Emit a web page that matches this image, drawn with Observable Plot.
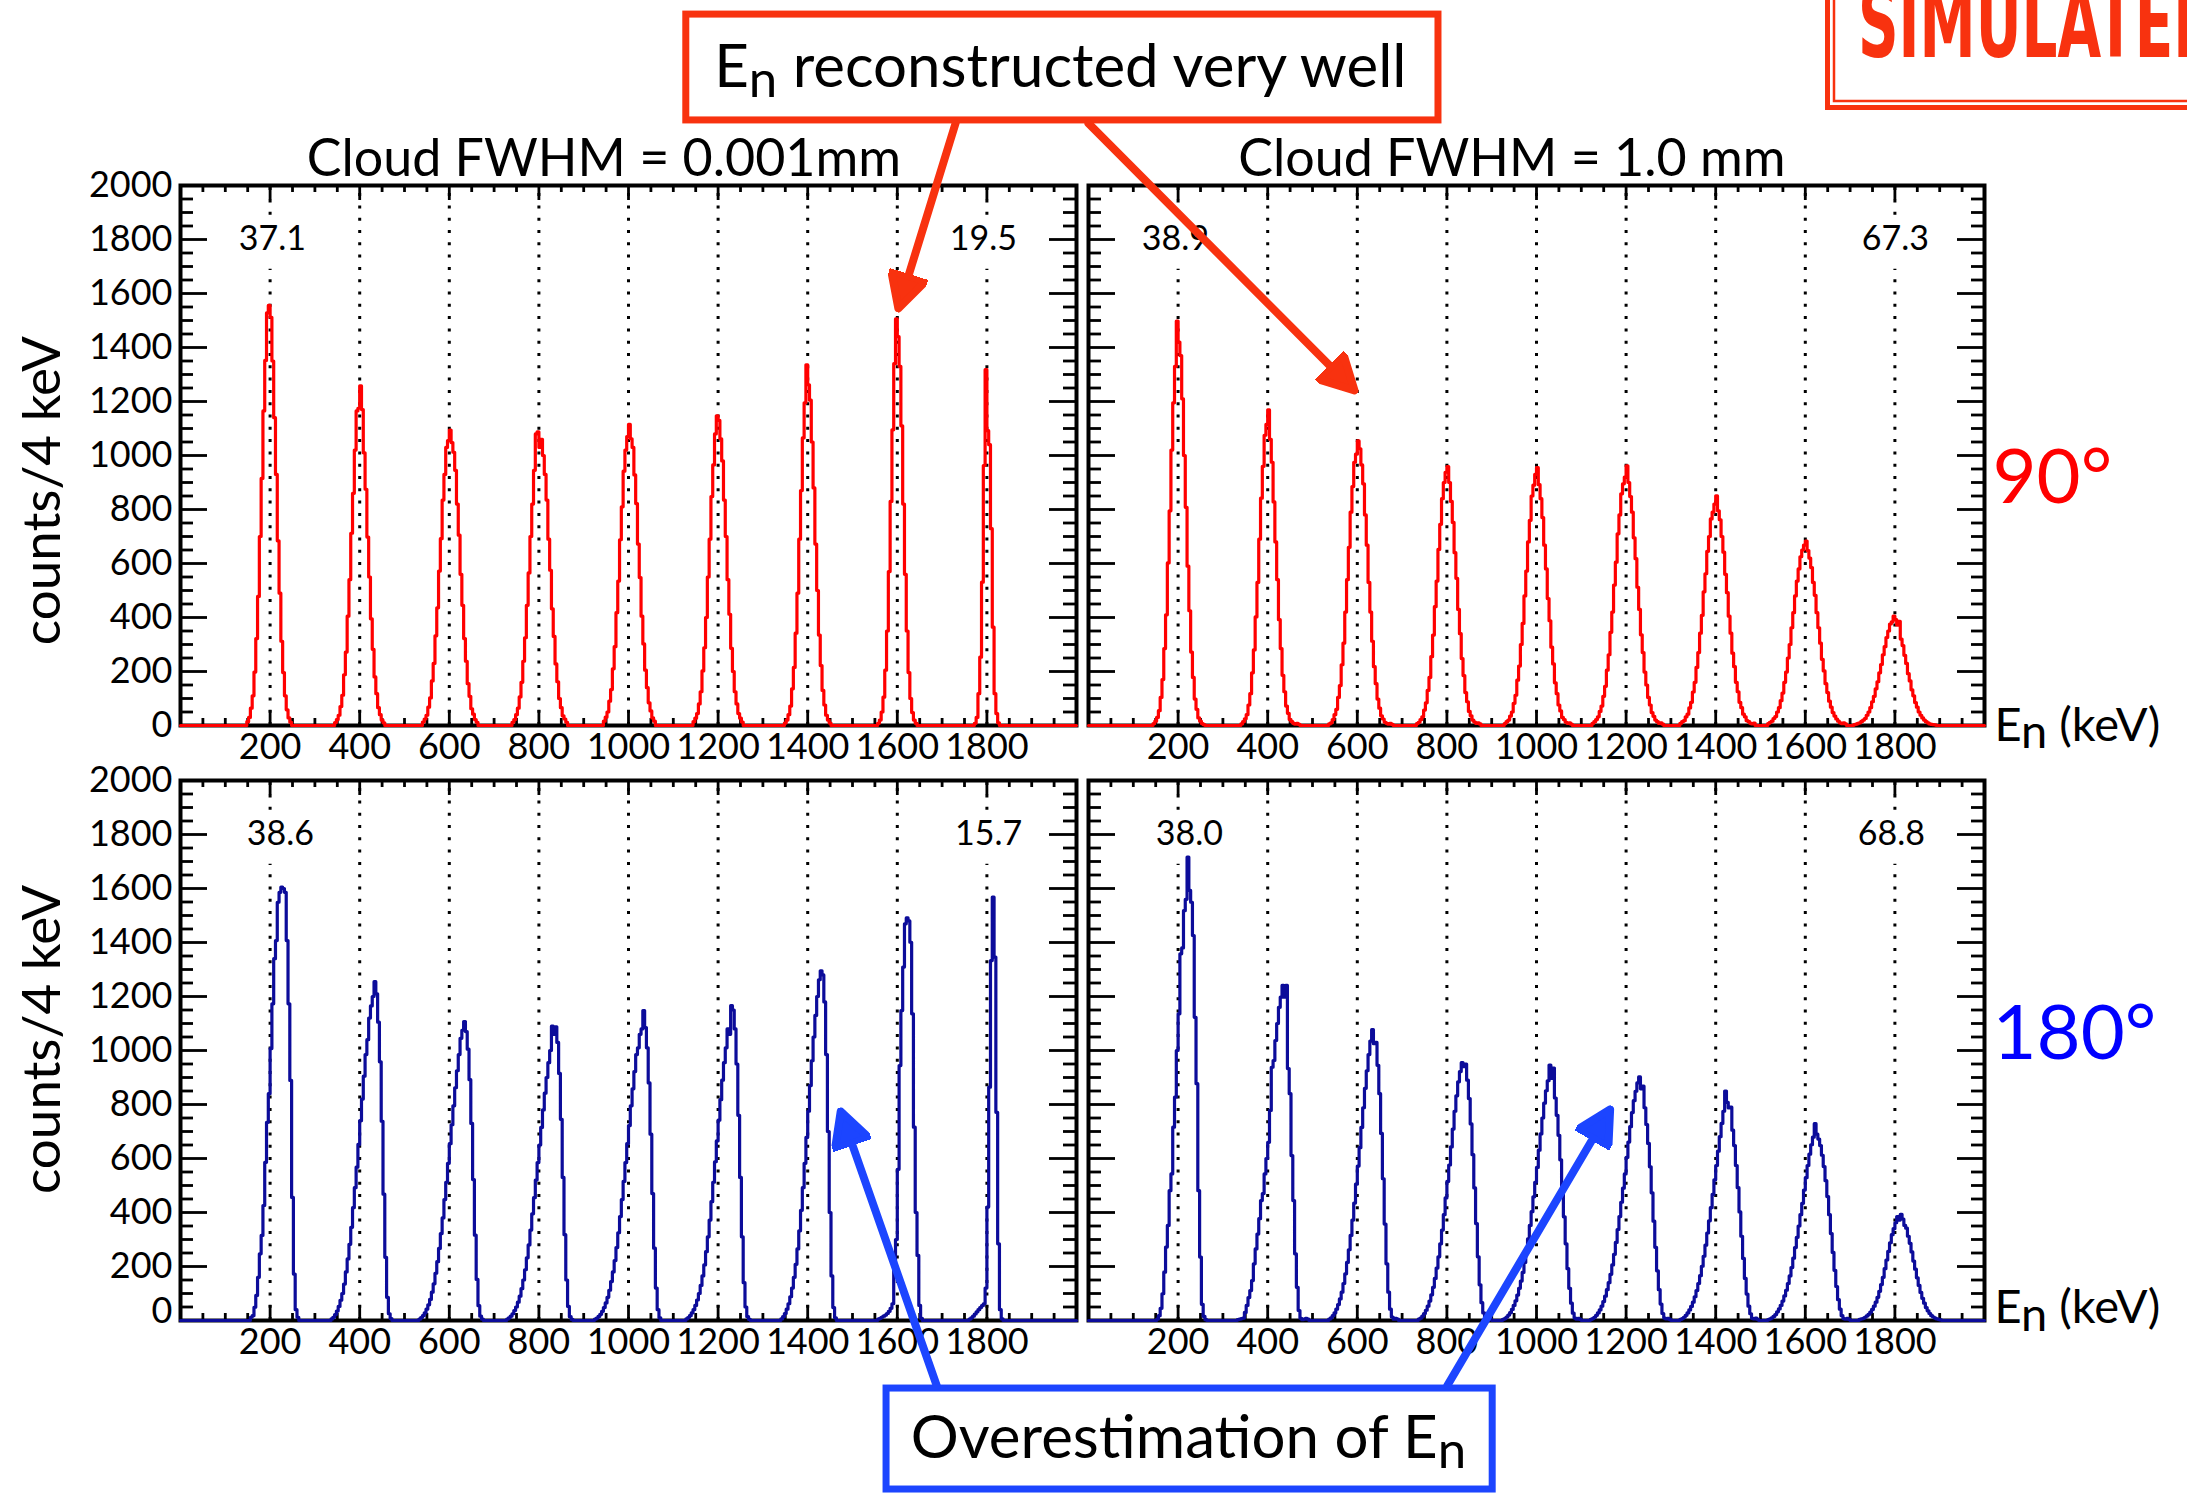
<!DOCTYPE html>
<html>
<head>
<meta charset="utf-8">
<script src="https://cdn.jsdelivr.net/npm/d3@7"></script>
<script src="https://cdn.jsdelivr.net/npm/@observablehq/plot@0.6"></script>
<style>
  html, body { margin: 0; padding: 0; background: #fff; }
  #wrap { position: relative; width: 2187px; height: 1496px; overflow: hidden; background: #fff; }
  #wrap > svg { position: absolute; left: 0; top: 0; }
</style>
</head>
<body>
<div id="wrap"></div>
<script>
// ---------------- data ----------------
const BIN_KEV = 4;
const N_BINS = 500;
const xTickValues = [200, 400, 600, 800, 1000, 1200, 1400, 1600, 1800];
const xTickLabels = ["200", "400", "600", "800", "1000", "1200", "1400", "1600", "1800"];
const yTickValues = [0, 200, 400, 600, 800, 1000, 1200, 1400, 1600, 1800, 2000];
const yTickLabels = ["0", "200", "400", "600", "800", "1000", "1200", "1400", "1600", "1800", "2000"];
const cloudWidths = ["0.001mm", "1.0mm"];
const columnTitles = ["Cloud FWHM = 0.001mm", "Cloud FWHM = 1.0 mm"];
const angles = ["90", "180"];
const angleLabels = ["90°", "180°"];
// resolution (FWHM, keV) printed on each panel and the energy where it is printed
const resolutionText = [["37.1", "19.5"], ["38.9", "67.3"], ["38.6", "15.7"], ["38.0", "68.8"]];
const resolutionEnergy = [[205, 1792], [194, 1801], [223, 1804], [225, 1792]];

// histogram peaks: [first bin lower edge (keV), counts per 4 keV bin]
const peaks90_0001 = [
  [148, [14,30,64,110,198,322,478,700,915,1165,1352,1528,1556,1512,1350,1140,930,684,490,312,196,110,58,28,12]],
  [344, [11,22,38,70,112,188,272,405,540,712,860,1020,1165,1175,1258,1170,1010,875,698,550,395,282,180,118,66,40,20,10]],
  [540, [13,24,38,68,102,165,230,332,436,572,692,835,930,1030,1055,1094,1048,1012,945,820,705,560,445,322,238,155,108,62,42,22,12]],
  [740, [12,22,40,64,106,160,238,325,445,565,700,820,945,1080,1088,1030,1060,1000,930,835,690,575,432,330,228,162,100,66,36,24,12]],
  [944, [16,31,50,90,133,210,292,418,535,688,810,942,1020,1070,1115,1062,1030,928,822,672,548,405,302,205,140,84,54,28,16]],
  [1144, [14,27,44,80,125,202,288,400,550,690,848,965,1080,1147,1130,1062,980,835,700,540,412,286,200,125,80,44,27,13]],
  [1348, [9,20,40,72,136,215,342,490,690,870,1065,1195,1336,1262,1205,1050,880,672,500,335,222,130,76,38,20,9]],
  [1556, [8,20,50,105,205,350,570,830,1095,1340,1506,1440,1330,1110,820,560,350,196,100,48,20,8]],
  [1772, [8,30,118,253,531,963,1318,1092,1040,729,364,118,44,10]]
];
const peaks90_1mm = [
  [144, [7,16,30,55,104,170,285,410,602,795,1020,1195,1330,1498,1420,1370,1210,1000,808,590,425,272,178,98,60,28,16,7,3]],
  [340, [6,14,25,40,76,118,195,280,402,530,690,842,960,1075,1115,1169,1060,975,828,680,540,392,285,186,125,72,45,22,14,8,5,8,4]],
  [536, [6,10,22,40,60,104,148,225,305,420,540,660,790,885,975,1005,1054,1025,965,895,780,668,530,420,312,218,155,98,64,36,24,12,8,5,8,4]],
  [732, [7,12,22,32,57,84,130,178,255,335,440,535,652,745,840,900,938,959,900,830,752,640,545,430,340,248,185,122,88,52,36,20,13,8,10,6]],
  [928, [7,14,20,35,50,82,112,168,220,300,378,480,572,680,760,850,890,930,955,892,840,770,668,580,470,388,290,228,158,118,76,54,30,22,12,8,10,5]],
  [1124, [8,14,22,32,52,72,108,145,205,262,345,420,520,605,710,780,858,895,920,962,900,848,790,695,618,512,430,336,270,198,150,104,76,48,34,20,14,8,10,5]],
  [1320, [8,14,18,32,42,65,86,124,160,215,270,342,408,495,562,645,700,765,790,820,851,795,762,700,642,560,492,405,342,268,218,160,125,86,66,42,32,18,14,8,6,9]],
  [1516, [7,12,16,26,33,50,66,92,120,160,198,250,300,362,418,480,535,580,625,650,668,683,648,620,585,530,482,418,362,305,245,202,155,122,90,68,48,35,24,16,10,7,10,6]],
  [1708, [3,5,8,10,15,20,26,38,50,66,88,108,136,162,195,226,262,292,326,350,376,384,405,392,372,386,320,296,260,230,192,165,132,110,85,68,50,38,28,20,14,10,6,4,3,2]]
];
const peaks180_0001 = [
  [156, [12,18,49,93,160,247,315,426,586,734,840,1007,1173,1340,1407,1549,1586,1605,1600,1586,1407,1173,889,456,172,40,12]],
  [336, [6,12,22,35,52,75,100,135,180,228,282,345,418,492,568,652,740,820,905,985,1040,1120,1165,1200,1255,1210,1105,958,738,468,234,86,25,7]],
  [532, [5,11,18,28,42,58,78,105,136,175,218,267,322,380,448,512,582,655,725,795,862,925,985,1045,1075,1107,1070,1005,892,730,522,316,152,55,16,5]],
  [728, [5,10,16,25,37,50,68,90,118,150,188,232,280,335,395,455,520,585,650,715,780,842,900,955,1000,1090,1060,1088,1030,915,745,530,318,150,52,14,4]],
  [924, [5,9,15,23,34,48,65,86,112,144,180,222,270,325,385,448,515,585,655,722,795,858,922,985,1010,1060,1080,1148,1085,1010,880,690,470,268,120,40,10]],
  [1128, [6,11,18,28,40,56,76,100,130,165,206,255,310,372,440,512,588,665,742,818,890,955,1010,1080,1060,1166,1150,1080,950,760,530,310,140,50,14,4]],
  [1340, [6,14,26,42,62,88,120,160,208,265,332,408,492,582,678,775,870,962,1050,1130,1200,1262,1295,1280,1180,985,700,400,165,48,10]],
  [1556, [5,8,12,16,20,26,34,45,62,192,300,560,944,1148,1309,1469,1491,1480,1401,1136,716,400,241,56,8]],
  [1760, [5,10,16,24,32,40,48,55,62,120,420,864,1333,1568,1346,771,284,40,6]]
];
const peaks180_1mm = [
  [152, [5,18,45,99,179,272,352,481,543,716,827,1000,1136,1358,1380,1518,1560,1716,1593,1549,1426,1123,877,481,235,60,15,3]],
  [332, [3,5,7,9,30,56,85,111,148,210,265,320,377,444,470,543,600,660,778,938,963,1037,1100,1160,1198,1241,1198,1241,933,840,611,444,247,123,37,8,3,5,8,5]],
  [536, [5,10,18,28,42,59,80,105,137,173,215,262,315,372,435,505,572,640,715,788,860,925,985,1035,1077,1025,1030,945,840,693,525,357,210,105,42,13,5,8,5]],
  [736, [5,9,16,26,38,53,72,95,123,156,194,236,284,335,392,454,515,576,643,709,775,832,884,922,955,940,950,890,822,728,614,491,359,236,132,66,28,10,6,8,4]],
  [924, [4,7,13,20,29,41,56,73,94,119,146,178,215,256,302,352,403,458,512,567,631,691,750,805,851,888,946,897,935,824,760,686,595,494,384,284,192,119,64,27,9,5,8,4]],
  [1120, [4,7,12,19,28,39,53,70,90,114,140,171,206,245,289,337,385,438,490,543,604,661,718,770,814,849,880,902,858,868,788,726,656,569,473,368,271,184,114,61,26,9,6,8,4]],
  [1320, [4,7,12,19,28,39,52,68,88,111,137,166,201,238,279,324,369,418,467,521,574,627,681,730,775,850,808,787,790,705,648,574,492,402,312,230,156,98,53,25,8,6,9,4]],
  [1516, [3,6,10,15,22,32,43,56,72,91,112,137,165,196,231,270,308,350,392,434,483,529,574,616,651,679,729,690,672,648,612,570,518,459,392,322,252,186,126,77,42,18,7,5,8,4]],
  [1720, [4,6,8,12,17,23,31,41,53,68,86,108,133,160,192,224,256,288,318,340,362,385,372,393,376,352,342,312,286,254,220,190,158,130,104,82,64,48,36,26,18,13,9,6,4,2]]
];

// ---------------- layout ----------------
const W = 2187, H = 1496;
const mL = 180, mR = 203, mT = 185, mB = 176;
const panelW = 896, panelH = 540;
const pxPerKeV = panelW / 2000, pxPerCount = panelH / 2000;
const RED = "#ff0000", BLUE = "#0c0c9a", ANN_RED = "#f8320f", ANN_BLUE = "#1c45ff";
const FONT = "Lato, 'Open Sans', 'DejaVu Sans', sans-serif";

function histPoints(peaks, col, row) {
  const counts = new Array(N_BINS).fill(0);
  for (const [start, values] of peaks) values.forEach((v, i) => { counts[start / BIN_KEV + i] += v; });
  const pts = counts.map((c, i) => ({x: i * BIN_KEV, y: c, col, row}));
  pts.push({x: N_BINS * BIN_KEV, y: counts[N_BINS - 1], col, row});
  return pts;
}
const redHist = [...histPoints(peaks90_0001, cloudWidths[0], angles[0]), ...histPoints(peaks90_1mm, cloudWidths[1], angles[0])];
const blueHist = [...histPoints(peaks180_0001, cloudWidths[0], angles[1]), ...histPoints(peaks180_1mm, cloudWidths[1], angles[1])];

const panelKeys = [[cloudWidths[0], angles[0]], [cloudWidths[1], angles[0]], [cloudWidths[0], angles[1]], [cloudWidths[1], angles[1]]];
const resLabels = panelKeys.flatMap(([col, row], p) =>
  resolutionText[p].map((t, j) => ({col, row, x: resolutionEnergy[p][j], text: t})));

const dottedFull = xTickValues.filter(v => v !== 200 && v !== 1800);
const dottedSplit = [200, 1800];
const xMinor = d3.range(50, 2000, 50).filter(v => v % 200 !== 0);
const yMinor = d3.range(50, 2000, 50).filter(v => v % 200 !== 0);
const yMajorInner = yTickValues.filter(v => v > 0 && v < 2000);
const LXmaj = 15 / pxPerCount, LXmin = 7 / pxPerCount;
const LYmaj = 27 / pxPerKeV, LYmin = 13 / pxPerKeV;

const yTickData = angles.flatMap(row => yTickValues.map((v, i) => ({col: cloudWidths[0], row, y: v, label: yTickLabels[i]})));
const yTickMain = yTickData.filter(d => !(d.row === angles[1] && d.y === 0));
const yTickZeroLow = yTickData.filter(d => d.row === angles[1] && d.y === 0);

// annotation layout (in each panel's data coordinates)
const titles = cloudWidths.map((col, i) => ({col, row: angles[0], text: columnTitles[i]}));
const yTitles = [{col: cloudWidths[0], row: angles[0], y: 870}, {col: cloudWidths[0], row: angles[1], y: 1041}];
const axisTitles = [{col: cloudWidths[1], row: angles[0], y: -59}, {col: cloudWidths[1], row: angles[1], y: -11}];
const angleText = [{col: cloudWidths[1], row: angles[0], y: 915, text: angleLabels[0]}, {col: cloudWidths[1], row: angles[1], y: 1059, text: angleLabels[1]}];
const redBox = [{col: cloudWidths[0], row: angles[0], x1: 1129, x2: 2808, y1: 2241, y2: 2633}];
const blueBox = [{col: cloudWidths[0], row: angles[1], x1: 1576, x2: 2929, y1: -626, y2: -252}];
const redNote = [{col: cloudWidths[0], row: angles[0], x: 1964, y: 2363, text: "E_n reconstructed very well"}];
const blueNote = [{col: cloudWidths[0], row: angles[1], x: 2250, y: -511, text: "Overestimation of E_n"}];
const redArrows = [
  {id: 1, col: cloudWidths[0], row: angles[0], x: 1730, y: 2230}, {id: 1, col: cloudWidths[0], row: angles[0], x: 1609, y: 1580},
  {id: 2, col: cloudWidths[1], row: angles[0], x: 0, y: 2230}, {id: 2, col: cloudWidths[1], row: angles[0], x: 578, y: 1267}
];
const blueArrows = [
  {id: 3, col: cloudWidths[0], row: angles[1], x: 1688, y: -241}, {id: 3, col: cloudWidths[0], row: angles[1], x: 1481, y: 739},
  {id: 4, col: cloudWidths[1], row: angles[1], x: 801, y: -241}, {id: 4, col: cloudWidths[1], row: angles[1], x: 1153, y: 750}
];

const NS = "http://www.w3.org/2000/svg";
function headMarker(color) {
  const m = document.createElementNS(NS, "marker");
  m.setAttribute("viewBox", "-26 -20 40 40");
  m.setAttribute("markerWidth", 40);
  m.setAttribute("markerHeight", 40);
  m.setAttribute("markerUnits", "userSpaceOnUse");
  m.setAttribute("orient", "auto");
  m.setAttribute("refX", 0);
  m.setAttribute("refY", 0);
  const p = document.createElementNS(NS, "path");
  p.setAttribute("d", "M-24,-18L10,0L-24,18Z");
  p.setAttribute("fill", color);
  m.appendChild(p);
  return m;
}

function build(useMarker) {
  const fxy = {fx: "col", fy: "row"};
  const arrowMark = (data, color) => useMarker
    ? Plot.line(data, {x: "x", y: "y", z: "id", ...fxy, stroke: color, strokeWidth: 8, markerEnd: headMarker})
    : Plot.arrow([0, 2].map(i => ({...data[i], x2: data[i + 1].x, y2: data[i + 1].y})),
        {x1: "x", y1: "y", x2: "x2", y2: "y2", ...fxy, stroke: color, strokeWidth: 8, headLength: 30, headAngle: 70});
  const dot = {stroke: "black", strokeWidth: 3, strokeDasharray: "3 9.3"};
  const tk = {stroke: "black", strokeWidth: 2.8};
  return Plot.plot({
    width: W, height: H,
    marginLeft: mL, marginRight: mR, marginTop: mT, marginBottom: mB,
    style: `font-family: ${FONT}; background: white; overflow: visible;`,
    x: {domain: [0, 2000], axis: null},
    y: {domain: [0, 2000], axis: null},
    fx: {domain: cloudWidths, paddingInner: 12 / 908, paddingOuter: 0, round: false, axis: null},
    fy: {domain: angles, paddingInner: 55 / 595, paddingOuter: 0, round: false, axis: null},
    marks: [
      Plot.ruleX(dottedFull, {x: d => d, y1: 0, y2: 2000, ...dot}),
      Plot.ruleX(dottedSplit, {x: d => d, y1: 0, y2: 1690, ...dot}),
      Plot.ruleX(dottedSplit, {x: d => d, y1: 1890, y2: 2000, ...dot}),
      Plot.ruleX(xTickValues, {x: d => d, y1: 2000, y2: 2000 - LXmaj, ...tk}),
      Plot.ruleX(xMinor, {x: d => d, y1: 2000, y2: 2000 - LXmin, ...tk}),
      Plot.ruleX(xTickValues, {x: d => d, y1: 0, y2: LXmaj, ...tk}),
      Plot.ruleX(xMinor, {x: d => d, y1: 0, y2: LXmin, ...tk}),
      Plot.ruleY(yMajorInner, {y: d => d, x1: 0, x2: LYmaj, ...tk}),
      Plot.ruleY(yMinor, {y: d => d, x1: 0, x2: LYmin, ...tk}),
      Plot.ruleY(yMajorInner, {y: d => d, x1: 2000, x2: 2000 - LYmaj, ...tk}),
      Plot.ruleY(yMinor, {y: d => d, x1: 2000, x2: 2000 - LYmin, ...tk}),
      Plot.frame({stroke: "black", strokeWidth: 4}),
      Plot.line(redHist, {x: "x", y: "y", z: "col", ...fxy, stroke: RED, strokeWidth: 3.2, curve: "step-after"}),
      Plot.line(blueHist, {x: "x", y: "y", z: "col", ...fxy, stroke: BLUE, strokeWidth: 3.2, curve: "step-after"}),
      Plot.text(resLabels, {x: "x", y: 1800, ...fxy, text: "text", fontSize: 34, lineAnchor: "middle", fill: "black"}),
      Plot.text(xTickValues, {x: d => d, y: 0, text: (d, i) => xTickLabels[i], dy: 8, lineAnchor: "top", fontSize: 36, fill: "black"}),
      Plot.text(yTickMain, {x: 0, y: "y", ...fxy, text: "label", dx: -8, textAnchor: "end", lineAnchor: "middle", fontSize: 36, fill: "black"}),
      Plot.text(yTickZeroLow, {x: 0, y: "y", ...fxy, text: "label", dx: -8, dy: -9, textAnchor: "end", lineAnchor: "middle", fontSize: 36, fill: "black"}),
      Plot.text(titles, {x: 945, y: 2000, ...fxy, text: "text", dy: -10, lineAnchor: "bottom", fontSize: 52, fill: "black"}),
      Plot.text(yTitles, {x: 0, y: "y", ...fxy, text: () => "counts/4 keV", rotate: -90, dx: -137, lineAnchor: "middle", fontSize: 53, fill: "black"}),
      Plot.text(axisTitles, {x: 2000, y: "y", ...fxy, text: () => "E~n (keV)", dx: 10, textAnchor: "start", lineAnchor: "bottom", fontSize: 47, fill: "black"}),
      Plot.text(angleText.slice(0, 1), {x: 2000, y: "y", ...fxy, text: "text", dx: 8, textAnchor: "start", lineAnchor: "middle", fontSize: 76, fill: RED}),
      Plot.text(angleText.slice(1), {x: 2000, y: "y", ...fxy, text: "text", dx: 8, textAnchor: "start", lineAnchor: "middle", fontSize: 76, fill: "#0000ff"}),
      Plot.rect(redBox, {x1: "x1", x2: "x2", y1: "y1", y2: "y2", ...fxy, fill: "white", stroke: ANN_RED, strokeWidth: 7}),
      Plot.rect(blueBox, {x1: "x1", x2: "x2", y1: "y1", y2: "y2", ...fxy, fill: "white", stroke: ANN_BLUE, strokeWidth: 7}),
      Plot.text(redNote, {x: "x", y: "y", ...fxy, text: "text", lineAnchor: "bottom", fontSize: 60, fill: "black"}),
      Plot.text(blueNote, {x: "x", y: "y", ...fxy, text: "text", lineAnchor: "bottom", fontSize: 60, fill: "black"}),
      arrowMark(redArrows, ANN_RED),
      arrowMark(blueArrows, ANN_BLUE)
    ]
  });
}

let chart;
try { chart = build(true); } catch (e) { console.error(e); chart = build(false); }
const wrap = document.getElementById("wrap");
wrap.appendChild(chart);

// subscripts: "E_n" -> smaller lowered n, "E~n" -> lowered n
chart.querySelectorAll("text").forEach(t => {
  const s = t.textContent;
  const token = s.includes("E_n") ? "E_n" : s.includes("E~n") ? "E~n" : null;
  if (!token) return;
  const small = token === "E_n";
  const i = s.indexOf(token);
  const pre = s.slice(0, i) + "E", post = s.slice(i + 3);
  const fs = parseFloat(getComputedStyle(t).fontSize) || 40;
  const shift = fs * (small ? 0.16 : 0.15);
  t.textContent = "";
  t.appendChild(document.createTextNode(pre));
  const sub = document.createElementNS(NS, "tspan");
  sub.setAttribute("dy", shift);
  sub.setAttribute("font-size", fs * (small ? 0.85 : 1));
  sub.textContent = "n";
  t.appendChild(sub);
  if (post) {
    const rest = document.createElementNS(NS, "tspan");
    rest.setAttribute("dy", -shift);
    rest.textContent = post;
    t.appendChild(rest);
  }
});

// "SIMULATED" stamp in the corner (cut by the page edge, as in the original slide)
const stamp = d3.select(wrap).append("svg").attr("width", W).attr("height", H).style("pointer-events", "none");
stamp.append("rect").attr("x", 1827.5).attr("y", -60).attr("width", 420).attr("height", 167.5)
  .attr("fill", "none").attr("stroke", ANN_RED).attr("stroke-width", 5);
stamp.append("rect").attr("x", 1834).attr("y", -60).attr("width", 420).attr("height", 161)
  .attr("fill", "none").attr("stroke", ANN_RED).attr("stroke-width", 2.5);
stamp.append("text").attr("x", 1858).attr("y", 57)
  .attr("transform", "translate(0,57) scale(1,1.3) translate(0,-57)")
  .attr("font-family", "'Liberation Sans Narrow', 'DejaVu Sans Condensed', 'Roboto', sans-serif")
  .attr("font-weight", "bold").attr("font-size", 76).attr("fill", ANN_RED)
  .attr("textLength", 362).attr("lengthAdjust", "spacingAndGlyphs")
  .text("SIMULATED");
</script>
</body>
</html>
